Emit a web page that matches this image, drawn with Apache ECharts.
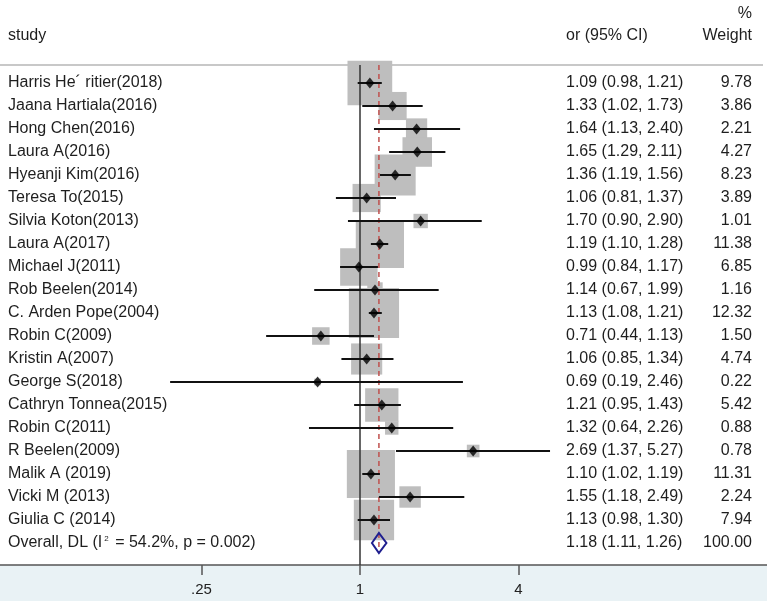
<!DOCTYPE html>
<html>
<head>
<meta charset="utf-8">
<script src="https://cdn.jsdelivr.net/npm/echarts@6/dist/echarts.min.js"></script>
<style>
  html, body { margin: 0; padding: 0; background: #ffffff; }
  #chart { width: 767px; height: 601px; }
</style>
</head>
<body>
<div id="chart"></div>
<script>
const studies = [
  'Harris He\u00b4 ritier(2018)', 'Jaana Hartiala(2016)', 'Hong Chen(2016)', 'Laura A(2016)',
  'Hyeanji Kim(2016)', 'Teresa To(2015)', 'Silvia Koton(2013)', 'Laura A(2017)',
  'Michael J(2011)', 'Rob Beelen(2014)', 'C. Arden Pope(2004)', 'Robin C(2009)',
  'Kristin A(2007)', 'George S(2018)', 'Cathryn Tonnea(2015)', 'Robin C(2011)',
  'R Beelen(2009)', 'Malik A (2019)', 'Vicki M (2013)', 'Giulia C (2014)'
];
const orValues = [1.09, 1.33, 1.64, 1.65, 1.36, 1.06, 1.70, 1.19, 0.99, 1.14, 1.13, 0.71, 1.06, 0.69, 1.21, 1.32, 2.69, 1.10, 1.55, 1.13];
const ciLower  = [0.98, 1.02, 1.13, 1.29, 1.19, 0.81, 0.90, 1.10, 0.84, 0.67, 1.08, 0.44, 0.85, 0.19, 0.95, 0.64, 1.37, 1.02, 1.18, 0.98];
const ciUpper  = [1.21, 1.73, 2.40, 2.11, 1.56, 1.37, 2.90, 1.28, 1.17, 1.99, 1.21, 1.13, 1.34, 2.46, 1.43, 2.26, 5.27, 1.19, 2.49, 1.30];
const weights  = [9.78, 3.86, 2.21, 4.27, 8.23, 3.89, 1.01, 11.38, 6.85, 1.16, 12.32, 1.50, 4.74, 0.22, 5.42, 0.88, 0.78, 11.31, 2.24, 7.94];

const overallOr = 1.18;
const overallLower = 1.11;
const overallUpper = 1.26;
const overallWeight = 100.00;

const tickValues = [0.25, 1, 4];
const tickLabels = ['.25', '1', '4'];

const headerStudy = 'study';
const headerCI = 'or (95% CI)';
const headerPct = '%';
const headerWeight = 'Weight';

// ---------------------------------------------------------------
const L2 = v => Math.log2(v);
const FONT = '"Liberation Sans", Arial, sans-serif';
const TXT = '#1e1e1e';
const overallRow = studies.length;
const yMin = -18 / 23, yMax = 482 / 23;
const fmt = v => v.toFixed(2);

const boxData = orValues.map((v, i) => ({ value: [L2(v), i], symbolSize: 14.3 * Math.sqrt(weights[i]) }));
const pointData = orValues.map((v, i) => [L2(v), i]);
const ciData = orValues.map((v, i) => [L2(ciLower[i]), L2(ciUpper[i]), i]);

const ciText = orValues.map((v, i) => fmt(v) + ' (' + fmt(ciLower[i]) + ', ' + fmt(ciUpper[i]) + ')');
ciText.push(fmt(overallOr) + ' (' + fmt(overallLower) + ', ' + fmt(overallUpper) + ')');
const wText = weights.map(fmt);
wText.push(fmt(overallWeight));
const labelText = studies.slice();
labelText.push('{a|Overall, DL (I}{s|2}{a| = 54.2%, p = 0.002)}');

function textColumn(texts, x, align) {
  return {
    type: 'custom', silent: true, z: 10,
    data: texts.map((t, i) => [0, i]),
    renderItem: function (params, api) {
      const y = api.coord([0, api.value(1)])[1];
      return {
        type: 'text',
        style: {
          text: texts[params.dataIndex], x: x, y: y,
          align: align, verticalAlign: 'middle',
          font: '16px ' + FONT, fill: TXT,
          rich: {
            a: { fontSize: 16, fontFamily: FONT, color: TXT },
            s: { fontSize: 8, fontFamily: FONT, color: TXT, verticalAlign: 'top', padding: [0, 2, 0, 2] }
          }
        }
      };
    }
  };
}

const chart = echarts.init(document.getElementById('chart'), null, { renderer: 'canvas' });
chart.setOption({
  animation: false,
  backgroundColor: '#ffffff',
  grid: { left: 0, right: 0, top: 65, bottom: 36, containLabel: false },
  xAxis: {
    type: 'value',
    position: 'bottom',
    min: -360 / 79.25, max: 407 / 79.25,
    splitLine: { show: false },
    axisLine: { show: true, onZero: false, lineStyle: { color: '#555555', width: 1.5 } },
    axisTick: { show: true, length: 10, lineStyle: { color: '#555555', width: 1.5 }, customValues: tickValues.map(L2) },
    axisLabel: {
      customValues: tickValues.map(L2), margin: 17,
      fontSize: 15, fontFamily: FONT, color: '#222222',
      formatter: function (v) {
        const idx = tickValues.findIndex(t => Math.abs(L2(t) - v) < 1e-6);
        return idx >= 0 ? tickLabels[idx] : '';
      }
    }
  },
  yAxis: { type: 'value', inverse: true, min: yMin, max: yMax, show: false },
  graphic: {
    elements: [
      { type: 'rect', z: -10, shape: { x: 0, y: 565, width: 767, height: 36 }, style: { fill: '#e9f2f5' }, silent: true },
      { type: 'line', z: -5, shape: { x1: 0, y1: 65, x2: 763, y2: 65 }, style: { stroke: '#c8c8c8', lineWidth: 2 }, silent: true },
      { type: 'text', x: 8, y: 36, style: { text: headerStudy, font: '16px ' + FONT, fill: TXT, verticalAlign: 'middle', align: 'left' } },
      { type: 'text', x: 566, y: 36, style: { text: headerCI, font: '16px ' + FONT, fill: TXT, verticalAlign: 'middle', align: 'left' } },
      { type: 'text', x: 752, y: 14, style: { text: headerPct, font: '16px ' + FONT, fill: TXT, verticalAlign: 'middle', align: 'right' } },
      { type: 'text', x: 752, y: 36, style: { text: headerWeight, font: '16px ' + FONT, fill: TXT, verticalAlign: 'middle', align: 'right' } }
    ]
  },
  series: [
    {
      name: 'weight boxes', type: 'scatter', symbol: 'rect', z: 1, silent: true,
      itemStyle: { color: '#bebebe', opacity: 1 },
      data: boxData
    },
    {
      name: 'null line', type: 'custom', z: 2, silent: true,
      data: [[L2(1), yMin, yMax]],
      renderItem: function (params, api) {
        const p1 = api.coord([api.value(0), api.value(1)]);
        const p2 = api.coord([api.value(0), api.value(2)]);
        return { type: 'line', shape: { x1: p1[0], y1: p1[1], x2: p2[0], y2: p2[1] }, style: { stroke: '#333333', lineWidth: 1.5 } };
      }
    },
    {
      name: 'overall line', type: 'custom', z: 2, silent: true,
      data: [[L2(overallOr), yMin, overallRow + 10 / 23]],
      renderItem: function (params, api) {
        const p1 = api.coord([api.value(0), api.value(1)]);
        const p2 = api.coord([api.value(0), api.value(2)]);
        return { type: 'line', shape: { x1: p1[0], y1: p1[1], x2: p2[0], y2: p2[1] }, style: { stroke: '#c0504d', lineWidth: 1.5, lineDash: [5, 4] } };
      }
    },
    {
      name: 'CI', type: 'custom', z: 3, silent: true,
      data: ciData,
      renderItem: function (params, api) {
        const p1 = api.coord([api.value(0), api.value(2)]);
        const p2 = api.coord([api.value(1), api.value(2)]);
        return { type: 'line', shape: { x1: p1[0], y1: p1[1], x2: p2[0], y2: p2[1] }, style: { stroke: '#111111', lineWidth: 2 } };
      }
    },
    {
      name: 'estimate', type: 'scatter', symbol: 'diamond', symbolSize: [9, 11], z: 4, silent: true,
      itemStyle: { color: '#000000' },
      data: pointData
    },
    {
      name: 'overall', type: 'custom', z: 5, silent: true,
      data: [[L2(overallLower), L2(overallOr), L2(overallUpper), overallRow]],
      renderItem: function (params, api) {
        const lo = api.coord([api.value(0), api.value(3)]);
        const mid = api.coord([api.value(1), api.value(3)]);
        const hi = api.coord([api.value(2), api.value(3)]);
        const h = 10;
        return {
          type: 'polygon',
          shape: { points: [[lo[0], lo[1]], [mid[0], mid[1] - h], [hi[0], hi[1]], [mid[0], mid[1] + h]] },
          style: { fill: 'rgba(255,255,255,0)', stroke: '#1f1f8f', lineWidth: 2 }
        };
      }
    },
    textColumn(labelText, 8, 'left'),
    textColumn(ciText, 566, 'left'),
    textColumn(wText, 752, 'right')
  ]
});
</script>
</body>
</html>
